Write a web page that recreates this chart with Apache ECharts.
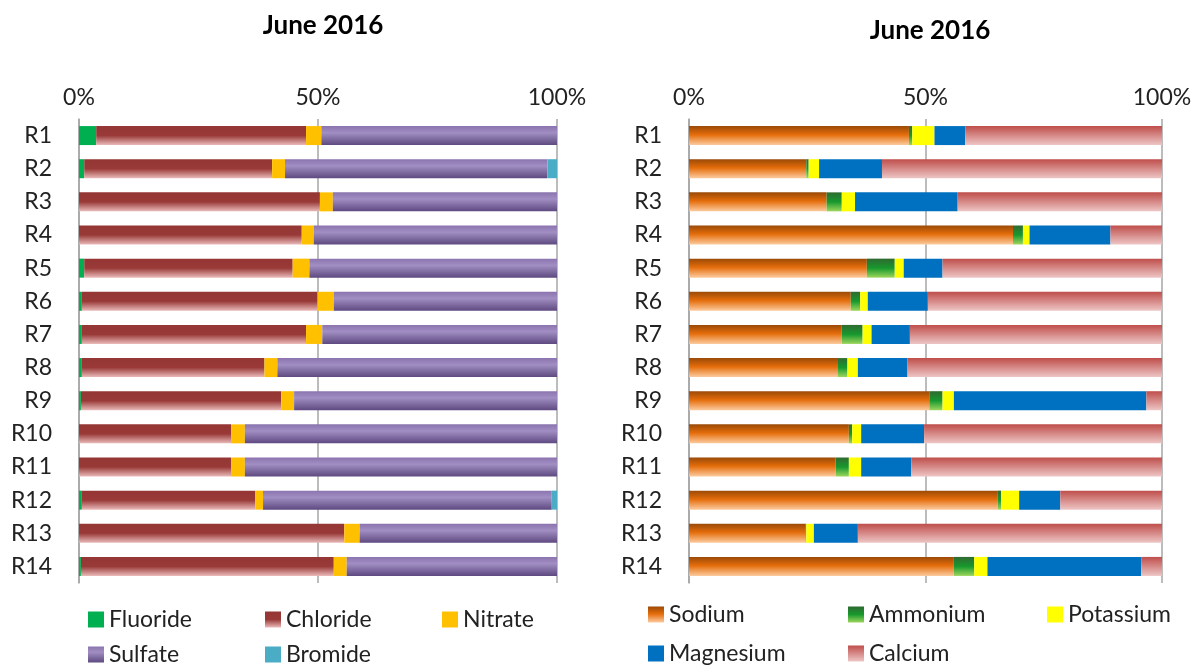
<!DOCTYPE html>
<html>
<head>
<meta charset="utf-8">
<title>June 2016</title>
<script src="https://cdn.jsdelivr.net/npm/echarts@6/dist/echarts.min.js"></script>
<style>
  html, body { margin: 0; padding: 0; background: #fff; }
  #chart { width: 1202px; height: 668px; }
</style>
</head>
<body>
<div id="chart"></div>
<script>
// rows (top to bottom)
const sites = ['R1', 'R2', 'R3', 'R4', 'R5', 'R6', 'R7', 'R8', 'R9', 'R10', 'R11', 'R12', 'R13', 'R14']
const ticks = [0, 50, 100]

// anions, % of total
const fluoride = [3.6, 1.1, 0, 0, 1.1, 0.6, 0.6, 0.6, 0.4, 0, 0, 0.6, 0, 0.4]
const chloride = [43.9, 39.3, 50.4, 46.6, 43.6, 49.3, 46.9, 38.2, 41.9, 31.8, 31.8, 36.3, 55.5, 52.9]
const nitrate = [3.2, 2.7, 2.7, 2.5, 3.5, 3.4, 3.4, 2.7, 2.7, 2.9, 2.9, 1.6, 3.2, 2.7]
const sulfate = [49.3, 54.9, 46.9, 50.9, 51.8, 46.7, 49.1, 58.5, 55.0, 65.3, 65.3, 60.4, 41.3, 44.0]
const bromide = [0, 2.0, 0, 0, 0, 0, 0, 0, 0, 0, 0, 1.1, 0, 0]

// cations, % of total
const sodium = [46.5, 24.8, 29.1, 68.5, 37.6, 34.2, 32.3, 31.5, 50.8, 33.8, 31.0, 65.3, 24.6, 56.0]
const ammonium = [0.7, 0.5, 3.2, 2.1, 5.9, 2.0, 4.4, 2.0, 2.8, 0.7, 2.8, 0.7, 0.2, 4.3]
const potassium = [4.7, 2.2, 2.8, 1.4, 1.9, 1.6, 1.9, 2.2, 2.4, 1.9, 2.6, 3.8, 1.6, 2.8]
const magnesium = [6.5, 13.3, 21.7, 17.1, 8.2, 12.7, 8.1, 10.5, 40.7, 13.3, 10.6, 8.7, 9.3, 32.5]
const calcium = [41.6, 59.2, 43.2, 10.9, 46.4, 49.5, 53.3, 53.8, 3.3, 50.3, 53.0, 21.5, 64.3, 4.4]

const FONT = 'Lato'

// vertical gradient across the bar thickness (excel-like shading)
const grad = (stops) => new echarts.graphic.LinearGradient(0, 0, 0, 1,
  stops.map(([offset, color]) => ({ offset, color })))

const colors = {
  Fluoride: '#00B050',
  Chloride: grad([[0, '#943634'], [0.5, '#993A38'], [1, '#E9BAB9']]),
  Nitrate: '#FFC000',
  Sulfate: grad([[0, '#8B74AF'], [0.35, '#A18EC2'], [1, '#5E4A80']]),
  Bromide: '#4BACC6',
  Sodium: grad([[0, '#9A4A08'], [0.45, '#E46C0A'], [1, '#FCCB9F']]),
  Ammonium: grad([[0, '#2F6A30'], [0.5, '#17992E'], [1, '#9DD65C']]),
  Potassium: '#FFFF00',
  Magnesium: '#0070C0',
  Calcium: grad([[0, '#BF4E4B'], [1, '#EDC6C5']]),
}

const grids = [
  { left: 79, width: 478, top: 119, height: 464 },
  { left: 689, width: 473, top: 119, height: 464 },
]

const xAxisFor = (gridIndex) => ({
  type: 'value',
  gridIndex,
  position: 'top',
  min: ticks[0],
  max: ticks[ticks.length - 1],
  interval: 50,
  axisLine: { show: false },
  axisTick: { show: false },
  axisLabel: { formatter: '{value}%', fontFamily: FONT, fontSize: 23, color: '#222', margin: 10 },
  splitLine: { show: true, lineStyle: { color: '#A6A6A6', width: 1.5 } },
})

const yAxisFor = (gridIndex) => ({
  type: 'category',
  gridIndex,
  data: sites,
  inverse: true,
  axisLine: { show: true, lineStyle: { color: '#A6A6A6', width: 1.5 } },
  axisTick: { show: false },
  axisLabel: { fontFamily: FONT, fontSize: 23, color: '#222', margin: 27 },
})

const barSeries = (name, data, idx) => ({
  name,
  type: 'bar',
  stack: 'total' + idx,
  xAxisIndex: idx,
  yAxisIndex: idx,
  barWidth: 19,
  data,
  itemStyle: { color: colors[name] },
  emphasis: { disabled: true },
})

// one legend per entry so the columns line up like the original
const legendItem = (name, left, top) => ({
  data: [name],
  left,
  top,
  icon: 'rect',
  itemWidth: 16,
  itemHeight: 16,
  selectedMode: false,
  textStyle: { fontFamily: FONT, fontSize: 23, color: '#222' },
})

const option = {
  animation: false,
  title: [
    { text: 'June 2016', left: 318, top: 8, textAlign: 'center',
      textStyle: { fontFamily: FONT, fontSize: 26, fontWeight: 'bold', color: '#000' } },
    { text: 'June 2016', left: 925, top: 13, textAlign: 'center',
      textStyle: { fontFamily: FONT, fontSize: 26, fontWeight: 'bold', color: '#000' } },
  ],
  legend: [
    legendItem('Fluoride', 83, 603),
    legendItem('Chloride', 260, 603),
    legendItem('Nitrate', 437, 603),
    legendItem('Sulfate', 83, 638),
    legendItem('Bromide', 260, 638),
    legendItem('Sodium', 643, 598),
    legendItem('Ammonium', 843, 598),
    legendItem('Potassium', 1042, 598),
    legendItem('Magnesium', 643, 637),
    legendItem('Calcium', 843, 637),
  ],
  grid: grids,
  xAxis: [xAxisFor(0), xAxisFor(1)],
  yAxis: [yAxisFor(0), yAxisFor(1)],
  series: [
    barSeries('Fluoride', fluoride, 0),
    barSeries('Chloride', chloride, 0),
    barSeries('Nitrate', nitrate, 0),
    barSeries('Sulfate', sulfate, 0),
    barSeries('Bromide', bromide, 0),
    barSeries('Sodium', sodium, 1),
    barSeries('Ammonium', ammonium, 1),
    barSeries('Potassium', potassium, 1),
    barSeries('Magnesium', magnesium, 1),
    barSeries('Calcium', calcium, 1),
  ],
}

const chart = echarts.init(document.getElementById('chart'))
chart.setOption(option)
window.addEventListener('resize', () => chart.resize())
</script>
</body>
</html>
